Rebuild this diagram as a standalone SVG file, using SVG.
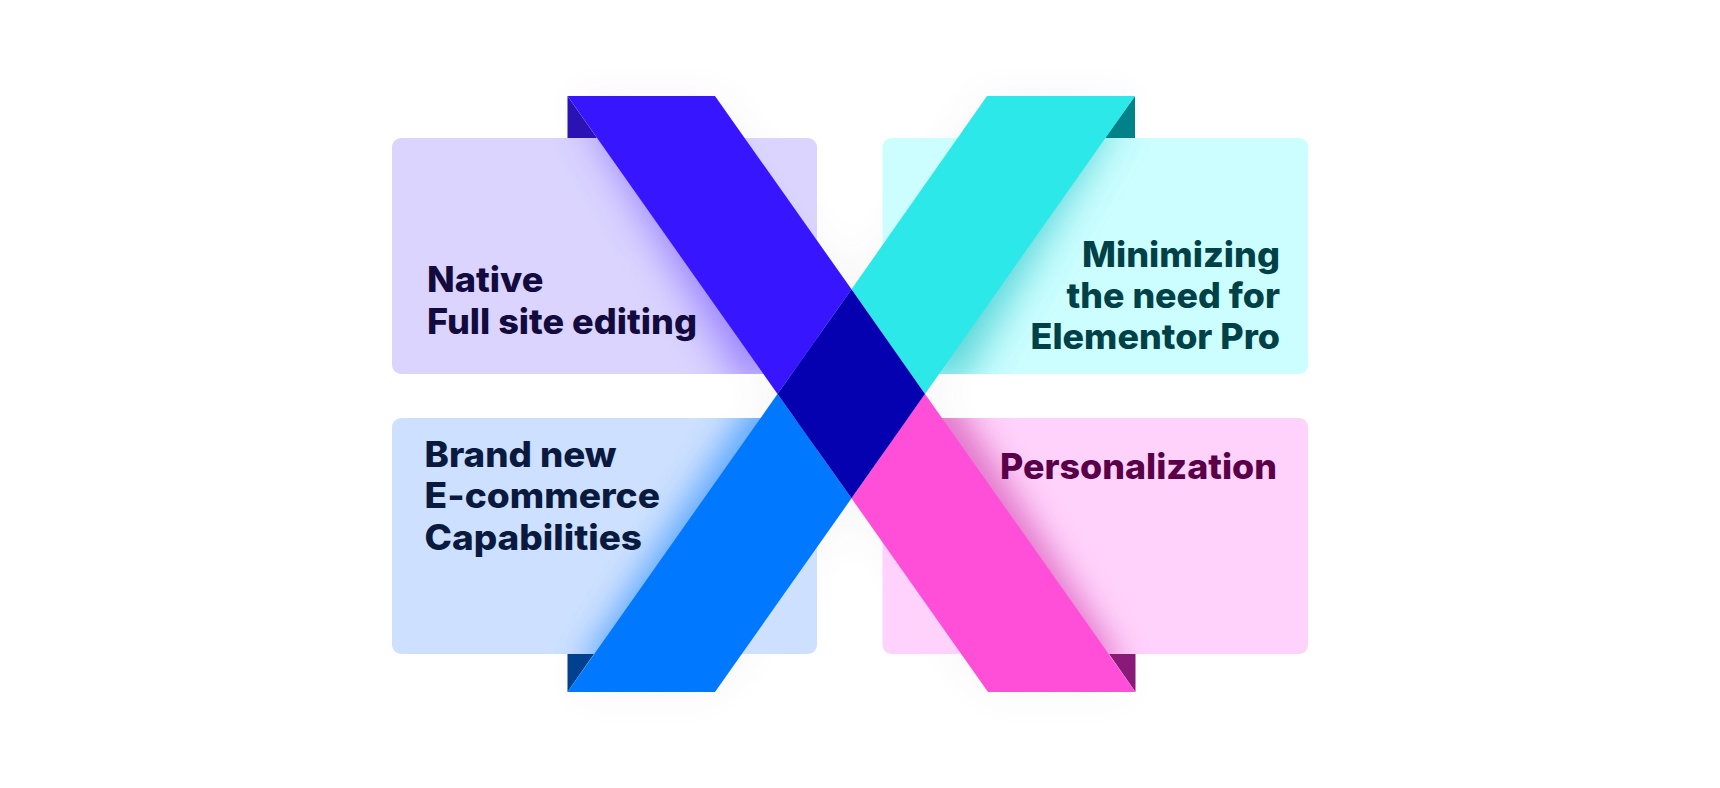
<svg xmlns="http://www.w3.org/2000/svg" width="1720" height="788" viewBox="0 0 1720 788">
<style>
text{font-family:"Inter","Liberation Sans",sans-serif;font-weight:800;font-size:35px}
.card{stroke:none}
</style>
<defs>
<filter id="blur" x="-50%" y="-50%" width="200%" height="200%"><feGaussianBlur stdDeviation="21"/></filter>
<filter id="blur2" x="-50%" y="-50%" width="200%" height="200%"><feGaussianBlur stdDeviation="16"/></filter>
<filter id="halo" x="-30%" y="-30%" width="160%" height="160%"><feGaussianBlur stdDeviation="22"/></filter>
<clipPath id="c1"><rect x="392" y="138" width="425" height="236" rx="9"/></clipPath>
<clipPath id="c2"><rect x="882.5" y="138" width="425.5" height="236" rx="9"/></clipPath>
<clipPath id="c3"><rect x="392" y="418" width="425" height="236" rx="9"/></clipPath>
<clipPath id="c4"><rect x="882.5" y="418" width="425.5" height="236" rx="9"/></clipPath>
</defs>
<rect width="1720" height="788" fill="#fff"/>
<g id="halo-back" filter="url(#halo)" opacity="0.05" fill="#50506a">
<polygon points="567.5,96 715,96 851.5,289.300 987,96 1135,96 925,394 1135.5,692 988,692 851.500,498.300 715,692 567.5,692 777.500,394"/>
</g>
<g id="folds">
<polygon points="567.5,96 567.5,138 597,138" fill="#2a12b4"/>
<polygon points="1135,96 1135,138 1105,138" fill="#008289"/>
<polygon points="567.5,692 567.5,654 594,654" fill="#00418f"/>
<polygon points="1135.5,692 1135.5,654 1109,654" fill="#881a78"/>
</g>
<g id="card-native">
<rect class="card" x="392" y="138" width="425" height="236" rx="9" fill="#dad4ff"/>
<g clip-path="url(#c1)"><polygon points="585,110 680,110 830,330 750,395" fill="#8f74ff" opacity="0.85" filter="url(#blur)"/></g>
<text x="427" y="291.700" textLength="116.500" lengthAdjust="spacingAndGlyphs" fill="#130a3e">Native</text>
<text x="427" y="334" textLength="270" lengthAdjust="spacingAndGlyphs" fill="#130a3e">Full site editing</text>
</g>
<g id="card-minimizing">
<rect class="card" x="882.5" y="138" width="425.5" height="236" rx="9" fill="#ccfeff"/>
<g clip-path="url(#c2)"><polygon points="1118,110 1030,110 880,330 952,395" fill="#45cfd2" opacity="0.9" filter="url(#blur)"/></g>
<text x="1082" y="266.700" textLength="198" lengthAdjust="spacingAndGlyphs" fill="#004147">Minimizing</text>
<text x="1066.500" y="307.700" textLength="213.500" lengthAdjust="spacingAndGlyphs" fill="#004147">the need for</text>
<text x="1030.500" y="349.300" textLength="249.500" lengthAdjust="spacingAndGlyphs" fill="#004147">Elementor Pro</text>
</g>
<g id="card-ecommerce">
<rect class="card" x="392" y="418" width="425" height="236" rx="9" fill="#cde0ff"/>
<g clip-path="url(#c3)"><polygon points="762,385 830,440 660,680 578,670" fill="#5aa6ff" opacity="0.95" filter="url(#blur2)"/></g>
<text x="424.500" y="466.700" textLength="192" lengthAdjust="spacingAndGlyphs" fill="#0a1a3f">Brand new</text>
<text x="424.500" y="508.300" textLength="235.500" lengthAdjust="spacingAndGlyphs" fill="#0a1a3f">E-commerce</text>
<text x="424.500" y="550" textLength="217.500" lengthAdjust="spacingAndGlyphs" fill="#0a1a3f">Capabilities</text>
</g>
<g id="card-personalization">
<rect class="card" x="882.5" y="418" width="425.5" height="236" rx="9" fill="#ffd2fb"/>
<g clip-path="url(#c4)"><polygon points="945,385 875,440 1045,680 1125,670" fill="#e070c6" opacity="0.95" filter="url(#blur2)"/></g>
<text x="1000" y="479.300" textLength="277" lengthAdjust="spacingAndGlyphs" fill="#5a0049">Personalization</text>
</g>
<g id="x-mark">
<polygon points="567.500,96 715,96 851.500,289.300 777.500,394" fill="#3716ff"/>
<polygon points="987,96 1135,96 925,394 851.500,289.300" fill="#2de8e9"/>
<polygon points="777.500,394 851.500,498.300 715,692 567.500,692" fill="#0078ff"/>
<polygon points="925,394 1135.500,692 988,692 851.500,498.300" fill="#ff4fd9"/>
<polygon points="851.500,289.300 925,394 851.500,498.300 777.500,394" fill="#0500b0"/>
</g>
</svg>
